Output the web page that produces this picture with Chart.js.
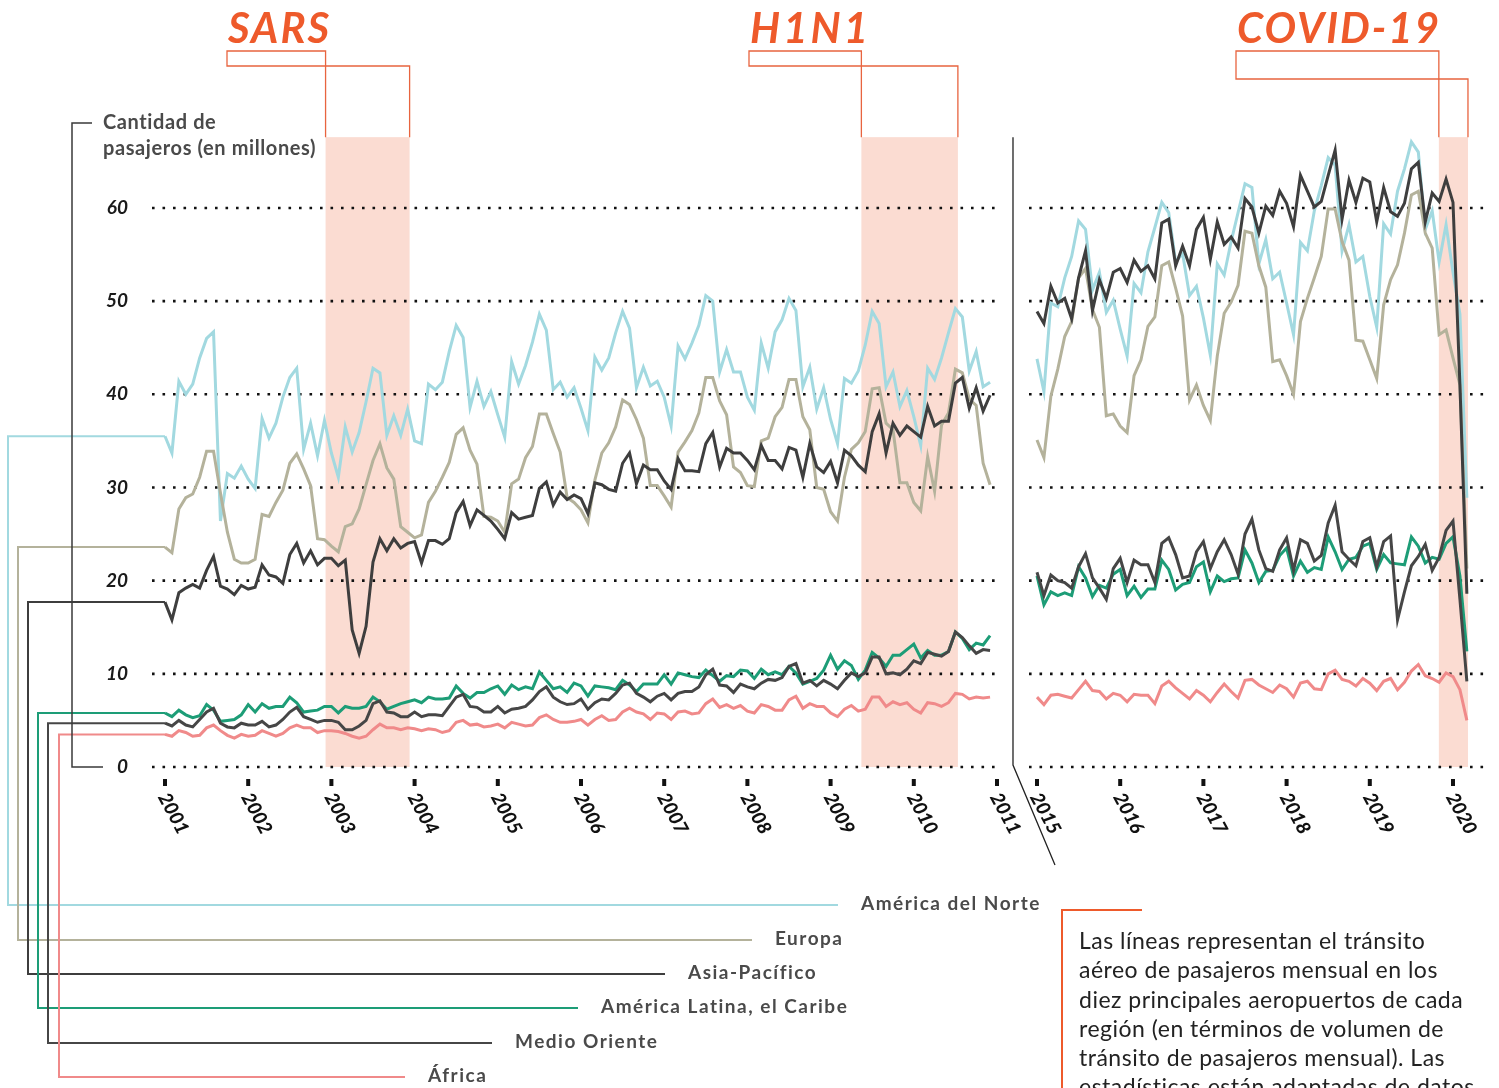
<!DOCTYPE html>
<html>
<head>
<meta charset="utf-8">
<script src="https://cdn.jsdelivr.net/npm/chart.js@4.4.0/dist/chart.umd.min.js"></script>
<style>
  body { margin: 0; background: #fff; }
  #wrap { position: relative; width: 1499px; height: 1088px; overflow: hidden; }
  #note { position: absolute; left: 1079px; top: 926px; font: 23px Lato, sans-serif; letter-spacing: 0.5px; line-height: 29.3px; color: #222; white-space: nowrap; }
</style>
</head>
<body>
<div id="wrap">
  <canvas id="chart"></canvas>
  <div id="note">Las líneas representan el tránsito<br>aéreo de pasajeros mensual en los<br>diez principales aeropuertos de cada<br>región (en términos de volumen de<br>tránsito de pasajeros mensual). Las<br>estadísticas están adaptadas de datos</div>
</div>
<script>
// monthly passengers (millions), top-10 airports per region
const regions = ['América del Norte', 'Europa', 'Asia-Pacífico', 'América Latina, el Caribe', 'Medio Oriente', 'África']
const leftYears = [2001, 2002, 2003, 2004, 2005, 2006, 2007, 2008, 2009, 2010, 2011]
const rightYears = [2015, 2016, 2017, 2018, 2019, 2020]
const yTicks = [0, 10, 20, 30, 40, 50, 60]

// Jan 2001 - Dec 2010
const naLeft = [
  35.5, 33.7, 41.4, 40.0, 41.1, 43.9, 46.0, 46.7, 26.4, 31.5, 31.0, 32.3,
  30.9, 29.9, 37.4, 35.3, 36.9, 39.7, 41.8, 42.8, 34.1, 36.9, 33.4, 37.2,
  33.7, 31.1, 36.5, 33.8, 35.9, 39.2, 42.8, 42.3, 35.6, 37.7, 35.6, 38.4,
  35.0, 34.7, 41.1, 40.5, 41.3, 44.6, 47.4, 46.1, 38.6, 41.4, 38.7, 40.3,
  37.8, 35.4, 43.5, 41.1, 43.1, 45.6, 48.6, 46.9, 40.5, 41.3, 39.7, 40.7,
  38.5, 36.1, 44.0, 42.6, 43.9, 46.6, 48.9, 47.1, 40.7, 42.9, 40.9, 41.4,
  39.7, 36.6, 45.2, 43.8, 45.5, 47.4, 50.6, 50.0, 42.4, 44.8, 42.4, 42.4,
  39.7, 38.3, 45.5, 42.8, 46.7, 48.0, 50.3, 49.0, 40.8, 42.9, 38.4, 40.7,
  37.3, 34.7, 41.7, 41.2, 42.5, 45.3, 48.9, 47.6, 40.8, 42.4, 38.7, 40.4,
  37.6, 34.5, 42.8, 41.6, 43.9, 46.6, 49.2, 48.3, 42.5, 44.6, 40.8, 41.3
]
const euLeft = [
  23.6, 23.0, 27.7, 28.9, 29.3, 31.1, 33.9, 33.9, 29.4, 25.2, 22.3, 21.9,
  21.9, 22.3, 27.1, 26.9, 28.4, 29.7, 32.6, 33.6, 32.0, 30.2, 24.5, 24.4,
  23.7, 23.1, 25.8, 26.1, 27.7, 30.3, 32.9, 34.7, 32.1, 30.9, 25.8, 25.2,
  24.6, 24.9, 28.4, 29.6, 31.1, 32.7, 35.7, 36.4, 34.0, 32.5, 26.9, 26.8,
  26.4, 25.2, 30.4, 30.9, 33.2, 34.4, 37.9, 37.9, 35.8, 33.8, 28.9, 28.4,
  27.6, 26.2, 30.8, 33.7, 34.8, 36.5, 39.4, 38.9, 37.3, 35.3, 30.2, 30.2,
  29.1, 27.9, 33.8, 34.9, 36.1, 38.0, 41.8, 41.8, 39.3, 37.8, 32.2, 31.6,
  30.2, 30.1, 35.0, 35.3, 37.6, 38.6, 41.6, 41.6, 37.6, 36.2, 30.0, 29.8,
  27.4, 26.4, 31.1, 34.1, 34.8, 36.0, 40.6, 40.7, 36.9, 36.2, 30.5, 30.5,
  28.4, 27.5, 33.3, 29.6, 36.7, 38.0, 42.7, 42.3, 39.5, 38.8, 32.6, 30.3
]
const asiaLeft = [
  17.7, 15.8, 18.7, 19.2, 19.6, 19.2, 21.1, 22.6, 19.4, 19.1, 18.5, 19.5,
  19.1, 19.3, 21.7, 20.6, 20.4, 19.7, 22.8, 24.0, 21.9, 23.2, 21.7, 22.4,
  22.4, 21.6, 22.2, 14.7, 12.2, 15.1, 22.0, 24.5, 23.2, 24.5, 23.5, 24.0,
  24.2, 21.9, 24.3, 24.3, 23.9, 24.5, 27.3, 28.5, 25.9, 27.6, 27.0, 26.4,
  25.5, 24.5, 27.3, 26.6, 26.8, 27.0, 29.9, 30.6, 28.1, 29.5, 28.7, 29.2,
  28.8, 27.2, 30.5, 30.3, 29.8, 29.6, 32.6, 33.7, 30.4, 32.4, 31.9, 31.9,
  30.7, 29.8, 33.1, 31.8, 31.8, 31.7, 34.7, 35.9, 32.2, 34.2, 33.7, 33.7,
  32.9, 31.9, 34.5, 32.9, 32.9, 32.0, 34.3, 34.0, 31.1, 34.7, 32.2, 31.6,
  32.8, 30.5, 34.0, 33.4, 32.4, 31.7, 36.0, 37.9, 33.7, 36.9, 35.6, 36.6,
  36.0, 35.4, 38.7, 36.6, 37.1, 37.1, 41.2, 41.8, 38.5, 40.7, 38.2, 39.9
]
const latamLeft = [
  5.8, 5.4, 6.1, 5.6, 5.3, 5.5, 6.7, 6.1, 4.9, 5.0, 5.1, 5.6,
  6.7, 5.9, 6.8, 6.3, 6.5, 6.5, 7.5, 6.9, 5.9, 6.0, 6.1, 6.5,
  6.5, 5.8, 6.5, 6.3, 6.3, 6.5, 7.5, 7.0, 6.2, 6.5, 6.8, 7.0,
  7.2, 6.9, 7.5, 7.3, 7.3, 7.4, 8.7, 7.9, 7.4, 8.0, 8.0, 8.4,
  8.7, 7.8, 8.8, 8.3, 8.6, 8.4, 10.2, 9.3, 8.4, 8.6, 8.0, 9.0,
  8.7, 7.6, 8.7, 8.6, 8.5, 8.3, 9.3, 8.8, 8.1, 8.9, 8.9, 8.9,
  9.9, 8.9, 10.1, 9.9, 9.7, 9.6, 10.4, 9.8, 9.2, 9.8, 9.7, 10.4,
  10.3, 9.5, 10.5, 9.9, 10.2, 9.9, 10.8, 10.1, 8.9, 9.2, 9.5, 10.4,
  12.0, 10.5, 11.4, 10.9, 9.4, 10.4, 12.3, 11.7, 10.8, 12.0, 12.0, 12.6,
  13.2, 11.7, 12.5, 12.0, 12.0, 12.4, 14.5, 13.8, 12.6, 13.3, 13.1, 14.1
]
const meLeft = [
  4.7, 4.4, 5.0, 4.5, 4.3, 5.1, 5.9, 6.3, 4.7, 4.3, 4.2, 4.7,
  4.5, 4.5, 4.9, 4.3, 4.5, 5.1, 5.9, 6.4, 5.4, 5.1, 4.8, 5.0,
  5.0, 4.8, 4.0, 4.0, 4.4, 5.0, 6.8, 7.1, 5.9, 5.8, 5.4, 5.4,
  5.9, 5.4, 5.6, 5.6, 5.5, 6.5, 7.5, 7.8, 6.5, 6.4, 5.9, 5.9,
  6.5, 5.8, 6.2, 6.3, 6.5, 7.2, 8.1, 8.6, 7.5, 7.0, 6.7, 6.8,
  7.3, 6.2, 6.9, 7.3, 7.2, 7.9, 8.8, 9.0, 7.9, 7.5, 7.0, 7.6,
  7.9, 7.2, 7.9, 8.1, 8.1, 8.6, 9.9, 10.5, 8.8, 8.7, 8.0, 8.9,
  8.6, 8.4, 9.0, 9.4, 9.3, 9.6, 10.8, 11.1, 9.0, 9.3, 8.7, 9.3,
  8.9, 8.4, 9.3, 10.1, 9.7, 10.1, 11.8, 11.8, 10.0, 10.1, 9.9, 10.5,
  11.4, 11.1, 12.3, 12.1, 11.9, 12.4, 14.5, 13.9, 13.0, 12.2, 12.6, 12.5
]
const africaLeft = [
  3.5, 3.3, 3.9, 3.7, 3.3, 3.4, 4.2, 4.5, 3.9, 3.4, 3.1, 3.5,
  3.3, 3.4, 3.9, 3.6, 3.3, 3.6, 4.2, 4.5, 4.2, 4.2, 3.7, 3.9,
  3.9, 3.8, 3.6, 3.3, 3.1, 3.3, 4.0, 4.6, 4.2, 4.2, 4.0, 4.2,
  4.1, 3.9, 4.1, 4.0, 3.7, 3.9, 4.8, 5.0, 4.5, 4.6, 4.3, 4.4,
  4.6, 4.2, 4.8, 4.6, 4.4, 4.5, 5.3, 5.6, 5.1, 4.8, 4.8, 4.9,
  5.1, 4.5, 5.1, 5.5, 5.0, 5.1, 5.9, 6.3, 5.9, 5.7, 5.1, 5.8,
  5.7, 5.1, 5.9, 6.0, 5.7, 5.8, 6.8, 7.3, 6.4, 6.7, 6.3, 6.6,
  6.0, 5.8, 6.7, 6.5, 6.1, 6.1, 7.2, 7.6, 6.3, 6.8, 6.5, 6.5,
  5.8, 5.4, 6.2, 6.6, 6.0, 6.2, 7.5, 7.5, 6.5, 7.0, 6.7, 6.9,
  6.2, 5.8, 6.9, 6.8, 6.5, 6.9, 7.9, 7.8, 7.3, 7.5, 7.4, 7.5
]

// Jan 2015 - Mar 2020
const naRight = [
  43.8, 40.3, 49.8, 49.4, 52.5, 54.8, 58.6, 57.7, 51.2, 53.1, 48.8, 50.1,
  47.0, 44.1, 51.9, 50.9, 55.3, 57.9, 60.6, 59.5, 54.2, 55.1, 50.6, 51.6,
  48.2, 44.2, 54.0, 52.8, 56.4, 59.5, 62.6, 62.2, 54.0, 56.6, 52.4, 53.1,
  49.8, 46.4, 56.3, 55.4, 59.7, 62.4, 65.4, 64.6, 55.4, 58.2, 54.2, 54.8,
  50.5, 47.2, 58.3, 57.2, 61.8, 64.2, 67.1, 66.0, 57.7, 59.7, 54.2, 58.2,
  53.1, 48.6, 28.9
]
const euRight = [
  35.1, 33.2, 39.8, 42.7, 46.2, 47.8, 52.5, 53.5, 49.1, 47.2, 37.7, 37.9,
  36.6, 35.9, 42.0, 43.7, 47.3, 48.3, 53.8, 54.2, 51.4, 48.4, 39.4, 41.0,
  38.8, 37.2, 44.1, 48.7, 49.9, 51.7, 57.5, 57.3, 53.8, 51.5, 43.5, 43.7,
  42.0, 40.0, 47.8, 50.3, 52.5, 54.8, 59.9, 59.9, 56.4, 54.4, 45.8, 45.7,
  43.7, 41.7, 49.6, 52.3, 53.9, 57.3, 61.4, 61.8, 57.3, 55.7, 46.4, 46.9,
  43.9, 41.0, 21.3
]
const asiaRight = [
  48.9, 47.6, 51.6, 49.8, 50.3, 48.1, 52.5, 55.4, 49.0, 52.3, 50.3, 53.1,
  53.5, 52.0, 54.4, 53.2, 53.8, 52.4, 58.4, 58.8, 53.8, 55.9, 53.8, 57.7,
  59.0, 54.5, 58.5, 56.1, 56.9, 55.7, 61.0, 60.1, 57.3, 60.2, 59.2, 61.8,
  60.5, 58.0, 63.5, 61.8, 60.1, 60.7, 63.5, 66.2, 58.8, 63.0, 60.6, 63.2,
  62.8, 58.5, 62.2, 59.6, 59.1, 60.5, 64.2, 64.9, 58.5, 61.6, 60.7, 63.1,
  60.6, 41.0, 18.6
]
const latamRight = [
  20.5, 17.4, 18.8, 18.4, 18.7, 18.4, 21.5, 20.3, 18.3, 19.5, 19.2, 20.7,
  21.2, 18.4, 19.4, 18.2, 19.1, 19.1, 22.2, 21.2, 19.0, 19.6, 19.8, 21.5,
  22.0, 18.8, 20.5, 19.9, 20.2, 20.3, 23.3, 21.9, 19.8, 21.0, 21.1, 22.7,
  23.5, 20.5, 22.1, 20.9, 21.4, 21.2, 24.7, 23.1, 21.2, 22.3, 22.5, 23.7,
  24.0, 21.2, 22.8, 21.9, 21.8, 21.7, 24.7, 23.7, 21.9, 22.5, 22.3, 24.0,
  24.7, 20.5, 12.4
]
const meRight = [
  20.9, 18.4, 20.6, 20.0, 19.8, 19.2, 21.5, 22.9, 20.3, 19.2, 18.0, 21.3,
  22.4, 19.8, 22.2, 21.7, 21.7, 19.8, 24.0, 24.6, 22.8, 20.3, 20.5, 23.1,
  24.2, 21.3, 23.1, 24.4, 22.8, 20.7, 25.0, 26.6, 23.3, 21.3, 21.0, 23.3,
  24.6, 21.1, 24.4, 24.0, 22.1, 22.7, 26.2, 28.1, 23.1, 22.3, 21.6, 24.2,
  24.6, 21.5, 24.2, 24.8, 15.8, 18.8, 21.6, 22.6, 23.9, 21.1, 22.5, 25.4,
  26.4, 18.0, 9.2
]
const africaRight = [
  7.5, 6.7, 7.7, 7.8, 7.6, 7.4, 8.3, 9.2, 8.2, 8.1, 7.3, 7.9,
  7.7, 7.0, 7.8, 7.7, 7.7, 6.8, 8.7, 9.2, 8.5, 7.9, 7.3, 8.2,
  7.7, 7.0, 8.0, 8.9, 8.1, 7.4, 9.3, 9.4, 8.8, 8.4, 8.0, 8.8,
  8.4, 7.5, 9.0, 9.2, 8.4, 8.3, 10.0, 10.4, 9.4, 9.2, 8.7, 9.5,
  9.0, 8.2, 9.2, 9.5, 8.3, 9.1, 10.3, 11.0, 9.8, 9.5, 9.1, 10.1,
  9.7, 8.3, 5.0
]

// crisis periods, in decimal years
const eventNames = ['SARS', 'H1N1', 'COVID-19']
const eventStart = [2002.93, 2009.37, 2019.83]
const eventEnd = [2003.94, 2010.53, 2020.18]
const eventAxis = ['x', 'x', 'x2']

const leftSeries = [naLeft, euLeft, asiaLeft, latamLeft, meLeft, africaLeft]
const rightSeries = [naRight, euRight, asiaRight, latamRight, meRight, africaRight]
const colors = ['#a2d9e0', '#b4b29b', '#3e3e3e', '#1d9d77', '#464646', '#f08a8a']
const orange = '#ee5a2b'
const shade = '#fbdcd2'

const monthly = (vals, start) => vals.map((v, i) => ({x: start + i / 12, y: v}))

const drawOrder = [2, 4, 3, 5, 1, 0]
const datasets = []
drawOrder.forEach(i => {
  const base = {label: regions[i], borderColor: colors[i], borderWidth: 3, pointRadius: 0, tension: 0, fill: false}
  datasets.push({...base, data: monthly(leftSeries[i], 2001), xAxisID: 'x'})
  datasets.push({...base, data: monthly(rightSeries[i], 2015), xAxisID: 'x2'})
})

// legend connector layout (pixels)
const legendX = [8, 18, 28, 38, 48, 59]
const legendY = [905, 940, 974, 1008, 1043, 1077]
const legendEnd = [838, 752, 665, 578, 492, 405]
const titleX = [228, 750, 1237]
const titleSpacing = ['2px', '3px', '2px']
const bracketLow = [66, 66, 79]

const decor = {
  id: 'decor',
  beforeDatasetsDraw(chart) {
    const {ctx, chartArea: a, scales} = chart
    const {x, x2, y} = scales
    const top = y.getPixelForValue(67.6), bottom = y.getPixelForValue(0)
    ctx.save()
    ctx.fillStyle = shade
    eventNames.forEach((n, i) => {
      const s = scales[eventAxis[i]]
      const l = s.getPixelForValue(eventStart[i]), r = s.getPixelForValue(eventEnd[i])
      ctx.fillRect(l, top, r - l, bottom - top)
    })
    const leftEnd = x.getPixelForValue(2011) + 4
    const rightStart = x2.getPixelForValue(2015) - 8
    ctx.strokeStyle = '#111'
    ctx.lineWidth = 2.6
    ctx.setLineDash([2.6, 7.9])
    yTicks.forEach(v => {
      const py = y.getPixelForValue(v)
      ctx.beginPath(); ctx.moveTo(a.left, py); ctx.lineTo(leftEnd, py); ctx.stroke()
      ctx.beginPath(); ctx.moveTo(rightStart, py); ctx.lineTo(a.right, py); ctx.stroke()
    })
    ctx.setLineDash([])
    ctx.lineWidth = 2
    const x0 = x.getPixelForValue(2001)
    regions.forEach((r, i) => {
      const y0 = y.getPixelForValue(leftSeries[i][0])
      ctx.strokeStyle = colors[i]
      ctx.beginPath()
      ctx.moveTo(x0, y0); ctx.lineTo(legendX[i], y0); ctx.lineTo(legendX[i], legendY[i]); ctx.lineTo(legendEnd[i], legendY[i])
      ctx.stroke()
    })
    ctx.restore()
  },
  afterDraw(chart) {
    const {ctx, scales} = chart
    const {x, x2, y} = scales
    const top = y.getPixelForValue(67.6), bottom = y.getPixelForValue(0)
    ctx.save()
    // event titles and brackets
    eventNames.forEach((n, i) => {
      const s = scales[eventAxis[i]]
      const l = s.getPixelForValue(eventStart[i]), r = s.getPixelForValue(eventEnd[i])
      ctx.fillStyle = orange
      ctx.font = 'italic bold 42px Lato'
      ctx.letterSpacing = titleSpacing[i]
      ctx.textBaseline = 'alphabetic'
      ctx.textAlign = 'left'
      ctx.fillText(n, titleX[i], 43)
      ctx.strokeStyle = '#e8643f'
      ctx.lineWidth = 1.3
      ctx.beginPath()
      ctx.moveTo(l, top); ctx.lineTo(l, 51); ctx.lineTo(titleX[i] - 1, 51)
      ctx.lineTo(titleX[i] - 1, bracketLow[i]); ctx.lineTo(r, bracketLow[i]); ctx.lineTo(r, top)
      ctx.stroke()
    })
    // y axis title
    ctx.fillStyle = '#4a4a4a'
    ctx.font = 'bold 20px Lato'
    ctx.letterSpacing = '0.6px'
    ctx.textBaseline = 'middle'
    ctx.fillText('Cantidad de', 103, 123)
    ctx.fillText('pasajeros (en millones)', 103, 149)
    ctx.letterSpacing = '0px'
    ctx.strokeStyle = '#3a3a3a'
    ctx.lineWidth = 1.5
    ctx.beginPath()
    ctx.moveTo(92, 123); ctx.lineTo(72, 123); ctx.lineTo(72, bottom); ctx.lineTo(103, bottom)
    ctx.stroke()
    // x ticks
    ctx.fillStyle = '#111'
    ctx.font = 'italic 900 19px Lato'
    const tick = (s, yr) => {
      const px = s.getPixelForValue(yr)
      ctx.fillRect(px - 2, bottom + 12, 4, 7)
      ctx.save()
      ctx.translate(px - 2, bottom + 27)
      ctx.rotate(62 * Math.PI / 180)
      ctx.textAlign = 'left'
      ctx.textBaseline = 'middle'
      ctx.fillText(String(yr), 0, 0)
      ctx.restore()
    }
    leftYears.forEach(yr => tick(x, yr))
    rightYears.forEach(yr => tick(x2, yr))
    // panel separator
    const sx = x.getPixelForValue(2011) + 16
    ctx.strokeStyle = '#222'
    ctx.lineWidth = 1.3
    ctx.beginPath()
    ctx.moveTo(sx, top); ctx.lineTo(sx, bottom - 2); ctx.lineTo(sx + 42, bottom + 98)
    ctx.stroke()
    // legend labels
    ctx.fillStyle = '#4a4a4a'
    ctx.font = 'bold 19px Lato'
    ctx.letterSpacing = '1.5px'
    ctx.textBaseline = 'middle'
    regions.forEach((r, i) => ctx.fillText(r, legendEnd[i] + 23, legendY[i] - 1))
    ctx.letterSpacing = '0px'
    // note bracket
    ctx.strokeStyle = orange
    ctx.lineWidth = 2
    ctx.beginPath()
    ctx.moveTo(1142, 910); ctx.lineTo(1062, 910); ctx.lineTo(1062, 1088)
    ctx.stroke()
    ctx.restore()
  }
}

new Chart(document.getElementById('chart'), {
  type: 'line',
  data: {datasets: datasets},
  options: {
    responsive: true,
    maintainAspectRatio: false,
    animation: false,
    layout: {padding: {left: 0, right: 12, top: 114.8, bottom: 321}},
    plugins: {legend: {display: false}, tooltip: {enabled: false}},
    scales: {
      x: {type: 'linear', display: false, min: 2000.8438, max: 2016.8895},
      x2: {type: 'linear', display: false, min: 2004.363, max: 2020.4087},
      y: {
        min: 0, max: 70,
        afterBuildTicks: s => { s.ticks = yTicks.map(v => ({value: v})) },
        afterFit: s => { s.width = 152 },
        grid: {display: false, drawTicks: false},
        border: {display: false},
        ticks: {padding: 24, color: '#1a1a1a', font: {family: 'Lato', size: 19, weight: 'bold', style: 'italic'}}
      }
    }
  },
  plugins: [decor]
})
</script>
</body>
</html>
